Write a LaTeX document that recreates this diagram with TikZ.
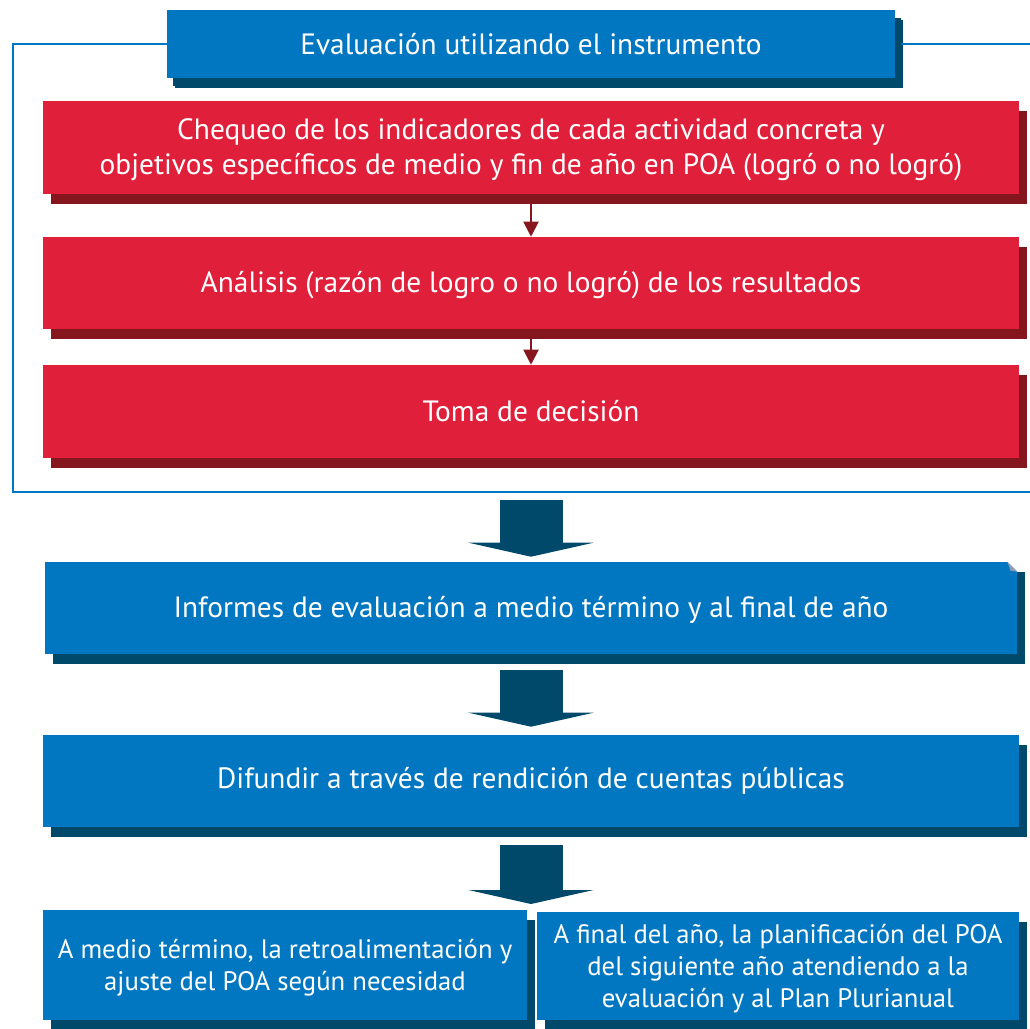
\documentclass[tikz,border=0pt]{standalone}
\usepackage{fontspec}
\setmainfont{PT Sans}
\usetikzlibrary{positioning, arrows.meta, shadows}
\definecolor{azulP}{HTML}{0077C0}
\definecolor{azulS}{HTML}{00496B}
\definecolor{rojoP}{HTML}{E01F3A}
\definecolor{rojoS}{HTML}{86161D}
\definecolor{doblez}{HTML}{8C9BB4}

\begin{document}
\begin{tikzpicture}[
    x=0.025cm, y=-0.025cm,
    font=\fontsize{20.9}{24.9}\selectfont,
    caja/.style={rectangle, fill=azulP, text=white, align=center, inner sep=0pt,
                 minimum width=24.4cm, minimum height=2.3cm,
                 drop shadow={shadow xshift=0.2cm, shadow yshift=-0.25cm, fill=azulS, opacity=1}},
    cajaroja/.style={caja, fill=rojoP,
                 drop shadow={shadow xshift=0.2cm, shadow yshift=-0.25cm, fill=rojoS, opacity=1}},
    pequena/.style={font=\fontsize{19}{22.8}\selectfont, text depth=-3pt},
    flecha/.style={-{Triangle[width=0.38cm, length=0.38cm]}, draw=rojoS, line width=0.05cm},
    bloque/.style={draw=azulS, line width=1.575cm,
                 -{Triangle[width=3.125cm, length=0.35cm, line width=0pt]}},
    marco/.style={draw=azulP, line width=0.05cm}
]
\useasboundingbox (0,0) rectangle (1030,1028);

% --- Bloque de evaluación ---
\node[caja, minimum width=18.2cm, minimum height=1.7cm,
      drop shadow={shadow xshift=0.15cm, shadow yshift=-0.2cm, fill=azulS, opacity=1}]
      (titulo) at (531,44) {Evaluación utilizando el instrumento};

\node[cajaroja, minimum height=2.325cm, text depth=2pt] (chequeo) at (531,147.5)
    {Chequeo de los indicadores de cada actividad concreta y\\
     objetivos específicos de medio y fin de año en POA (logró o no logró)};
\node[cajaroja, text depth=1pt] (analisis) at (531,283)
    {Análisis (razón de logro o no logró) de los resultados};
\node[cajaroja, minimum height=2.325cm] (decision) at (531,411.5) {Toma de decisión};

% marco alrededor
\draw[marco] (titulo.west) -- (13,44) -- (13,492) -- (1030,492);
\draw[marco] ([xshift=0.15cm]titulo.east) -- (1030,44);

\draw[flecha] ([yshift=-0.25cm]chequeo.south) -- (analisis.north);
\draw[flecha] ([yshift=-0.25cm]analisis.south) -- (decision.north);

% --- Informes y difusión ---
\node[caja, minimum width=24.3cm, text depth=2pt] (informes) at (531,608)
    {Informes de evaluación a medio término y al final de año};
\fill[white] ([xshift=-0.25cm]informes.north east) -- (informes.north east)
    -- ([yshift=-0.25cm]informes.north east) -- cycle;
\fill[doblez] ([xshift=-0.25cm]informes.north east) -- ([yshift=-0.25cm]informes.north east)
    -- ([xshift=-0.17cm, yshift=-0.23cm]informes.north east) -- cycle;

\node[caja] (difundir) at (531,781) {Difundir a través de rendición de cuentas públicas};

% --- Resultados finales ---
\node[caja, pequena, minimum width=12.1cm, minimum height=2.75cm] (medio) at (285,965)
    {A medio término, la retroalimentación y\\ ajuste del POA según necesidad};
\node[caja, pequena, minimum width=12.05cm, minimum height=2.7cm] (final) at (778,966)
    {A final del año, la planificación del POA\\ del siguiente año atendiendo a la\\
     evaluación y al Plan Plurianual};

% --- Flechas de bloque ---
\draw[bloque, shorten >=0.125cm] ([yshift=-1.05cm]decision.south) -- (informes.north);
\draw[bloque, shorten >=0.2cm] ([yshift=-0.4cm]informes.south) -- (difundir.north);
\draw[bloque, shorten >=0.15cm] ([yshift=-0.45cm]difundir.south) -- (531,910);
\end{tikzpicture}
\end{document}
